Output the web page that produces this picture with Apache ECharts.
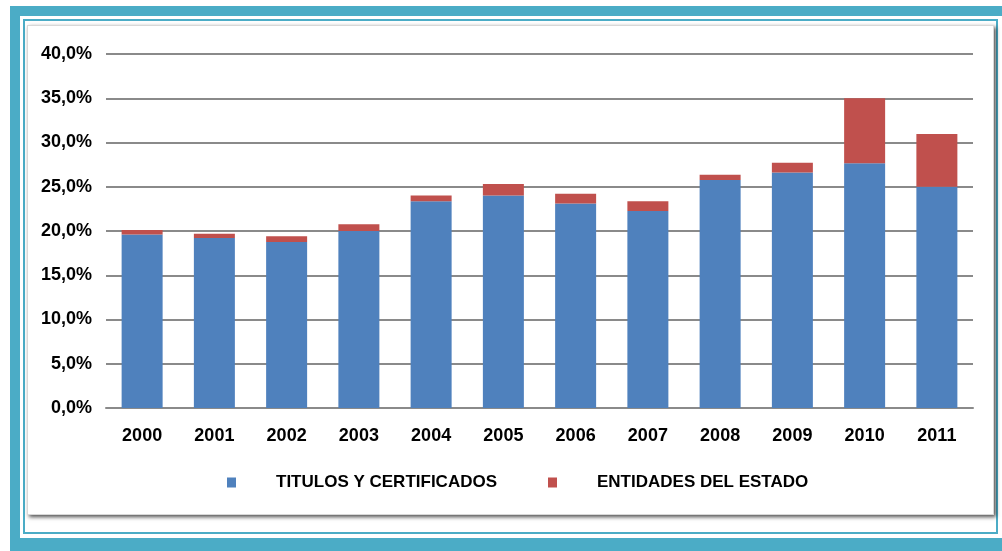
<!DOCTYPE html>
<html>
<head>
<meta charset="utf-8">
<script src="https://cdn.jsdelivr.net/npm/echarts@6/dist/echarts.min.js"></script>
<style>
  html, body { margin: 0; padding: 0; width: 1002px; height: 551px; overflow: hidden; background: #ffffff; }
  .abs { position: absolute; box-sizing: border-box; }
  #outer { left: 10px; top: 6px; width: 1030px; height: 580px; background: #4BACC6; }
  #inner { left: 20px; top: 16px; width: 1010px; height: 522px; background: #ffffff; }
  #thin { left: 23px; top: 19px; width: 975px; height: 515px; border: 2px solid #4BACC6; }
  #panel { left: 27px; top: 25px; width: 967px; height: 490px; background: #ffffff;
           border: 1px solid #d8d8d8; box-shadow: 2px 2px 4px rgba(0,0,0,0.7); }
  #chart { left: 0; top: 0; width: 1002px; height: 551px; }
</style>
</head>
<body>
<div id="outer" class="abs"></div>
<div id="inner" class="abs"></div>
<div id="thin" class="abs"></div>
<div id="panel" class="abs"></div>
<div id="chart" class="abs"></div>
<script>
const years = ['2000','2001','2002','2003','2004','2005','2006','2007','2008','2009','2010','2011'];
const titulos = [19.6, 19.2, 18.75, 20.0, 23.35, 24.0, 23.1, 22.25, 25.75, 26.6, 27.65, 25.0];
const entidades = [0.5, 0.5, 0.65, 0.75, 0.65, 1.3, 1.1, 1.1, 0.6, 1.1, 7.35, 5.95];
const seriesNames = ['TITULOS Y CERTIFICADOS', 'ENTIDADES DEL ESTADO'];

const chart = echarts.init(document.getElementById('chart'), null, { renderer: 'canvas' });
const font = 'Liberation Sans, Arial, sans-serif';
chart.setOption({
  backgroundColor: 'transparent',
  animation: false,
  grid: { left: 106, right: 29, top: 54, bottom: 143, containLabel: false },
  legend: {
    left: 222, top: 469,
    itemWidth: 9, itemHeight: 10, itemGap: 51,
    icon: 'rect',
    data: seriesNames,
    textStyle: { fontFamily: font, fontSize: 17, fontWeight: 'bold', color: '#000', padding: [0, 0, 0, 35] }
  },
  xAxis: {
    type: 'category',
    data: years,
    axisLine: { show: true, lineStyle: { color: '#8a8a8a', width: 2 } },
    axisTick: { show: false },
    axisLabel: { fontFamily: font, fontSize: 18, fontWeight: 'bold', color: '#000', margin: 19 }
  },
  yAxis: {
    type: 'value',
    min: 0, max: 40, interval: 5,
    axisLine: { show: false },
    axisTick: { show: false },
    splitLine: { lineStyle: { color: '#8a8a8a', width: 2 } },
    axisLabel: {
      fontFamily: font, fontSize: 18, fontWeight: 'bold', color: '#000', margin: 14,
      padding: [5, 0, 0, 0],
      formatter: v => v.toFixed(1).replace('.', ',') + '%'
    }
  },
  series: [
    { name: seriesNames[0], type: 'bar', stack: 'total', data: titulos, barWidth: 41,
      itemStyle: { color: '#4F81BD' } },
    { name: seriesNames[1], type: 'bar', stack: 'total', data: entidades, barWidth: 41,
      itemStyle: { color: '#C0504D' } }
  ]
});
</script>
</body>
</html>
